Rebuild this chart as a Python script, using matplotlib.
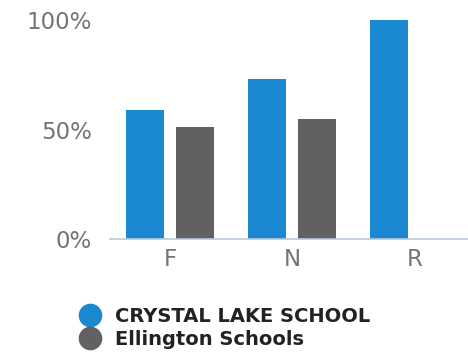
import numpy as np
import matplotlib
matplotlib.use("Agg")
import matplotlib.pyplot as plt
from matplotlib.lines import Line2D

categories = ["F", "N", "R"]
crystal_lake = [59, 73, 100]
ellington = [51, 55, np.nan]
series_names = ["CRYSTAL LAKE SCHOOL", "Ellington Schools"]
yticks = [0, 50, 100]
ytick_labels = ["0%", "50%", "100%"]

BLUE = "#1b88d2"
GREY = "#616163"
TICK_COLOR = "#747474"

fig = plt.figure(figsize=(4.68, 3.56), dpi=100)
ax = fig.add_axes([0.235, 0.328, 0.765, 0.616])

x = np.arange(len(categories))
width = 0.31
offset = 0.204
ax.bar(x - offset, crystal_lake, width, color=BLUE)
ax.bar(x + offset, ellington, width, color=GREY)

ax.set_xlim(-0.49, 2.44)
ax.set_ylim(0, 100)
ax.set_xticks(x)
ax.set_xticklabels(categories)
ax.set_yticks(yticks)
ax.set_yticklabels(ytick_labels)

for lbl in ax.get_xticklabels() + ax.get_yticklabels():
    lbl.set_family("DejaVu Sans")
    lbl.set_fontsize(16.5)
    lbl.set_color(TICK_COLOR)

ax.tick_params(axis="both", length=0)
ax.tick_params(axis="y", pad=13)
ax.tick_params(axis="x", pad=6)

for side in ("top", "right", "left"):
    ax.spines[side].set_visible(False)
ax.spines["bottom"].set_color("#b8c8dc")
ax.spines["bottom"].set_linewidth(1.2)

handles = [
    Line2D([], [], marker="o", linestyle="none", markersize=16, color=c)
    for c in (BLUE, GREY)
]
fig.legend(
    handles, series_names,
    loc="upper left", bbox_to_anchor=(0.172, 0.137),
    frameon=False, handlelength=1.0, handletextpad=0.75,
    labelspacing=0.17, borderpad=0, borderaxespad=0,
    prop={"family": "DejaVu Sans", "weight": "bold", "size": 14},
    labelcolor="#222222",
)

fig.savefig("out.png", dpi=100)
